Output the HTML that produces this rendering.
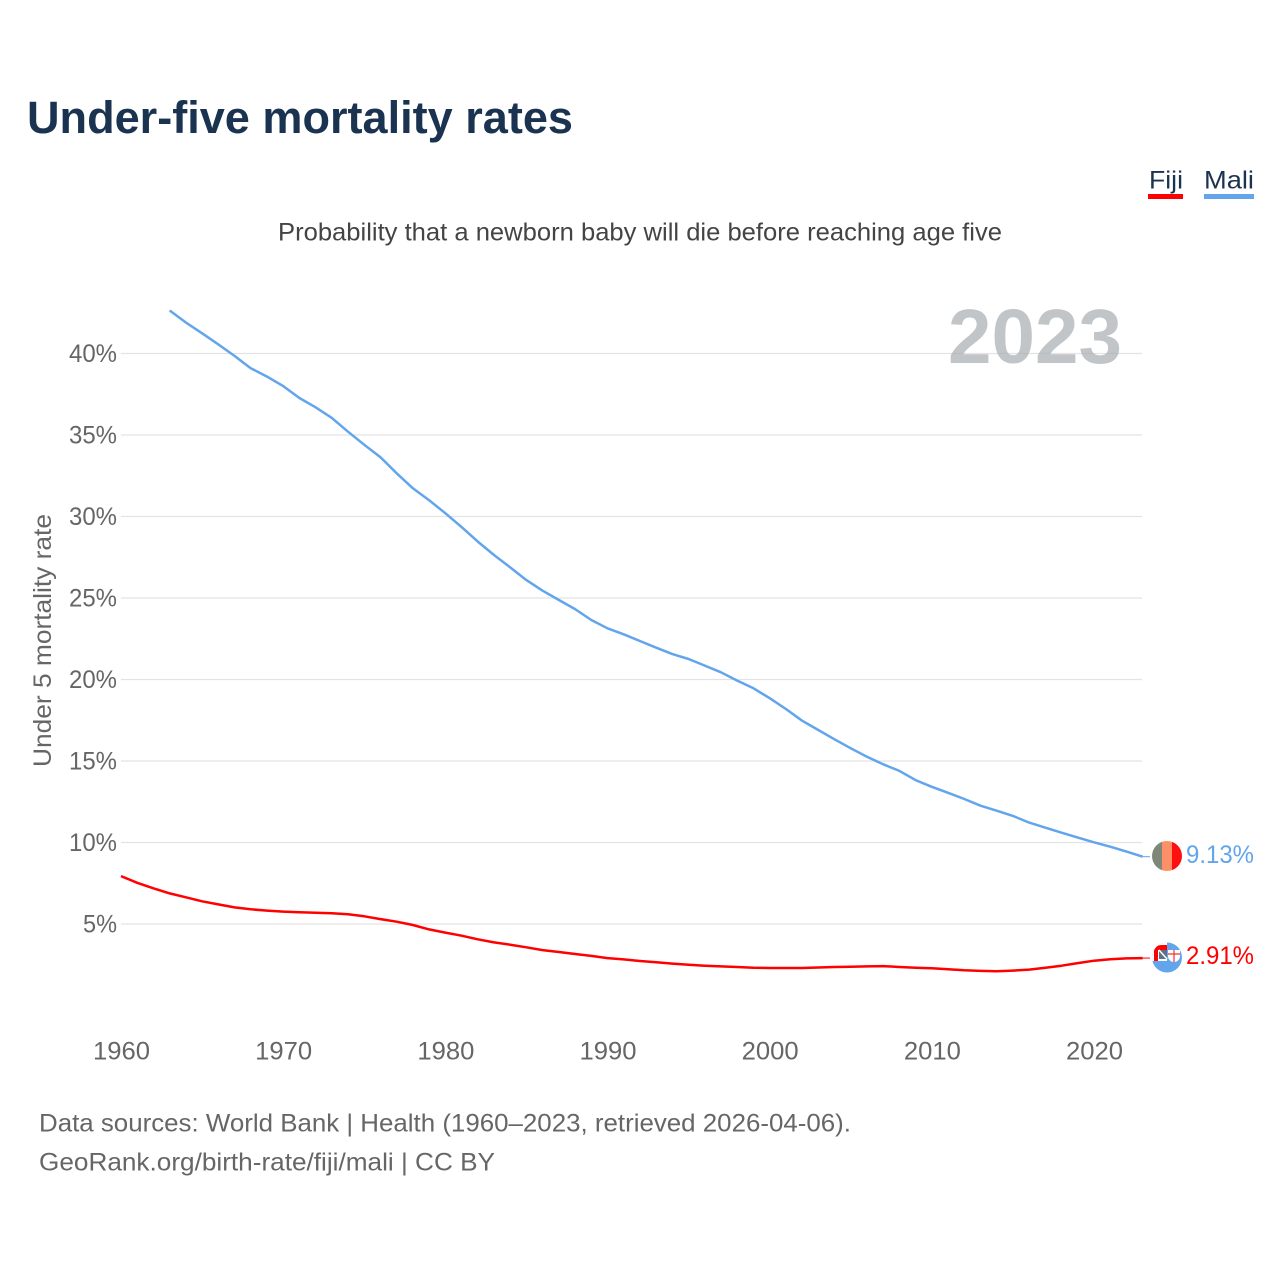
<!DOCTYPE html>
<html lang="en">
<head>
<meta charset="utf-8">
<title>Under-five mortality rates</title>
<style>
html,body{margin:0;padding:0;background:#fff;width:1280px;height:1280px;overflow:hidden}
svg{display:block}
text{font-family:"Liberation Sans",sans-serif}
</style>
</head>
<body>
<svg id="chart" width="1280" height="1280" viewBox="0 0 1280 1280" xmlns="http://www.w3.org/2000/svg">
  <defs>
    <clipPath id="mali-clip"><circle cx="1167" cy="856" r="15"/></clipPath>
    <clipPath id="fiji-clip"><circle cx="1167" cy="957.5" r="15"/></clipPath>
  </defs>
  <text x="27" y="133" font-size="45" font-weight="700" fill="#1a3350" textLength="546" lengthAdjust="spacingAndGlyphs">Under-five mortality rates</text>
  <g>
    <text x="1149" y="188.5" font-size="25" fill="#1a3350" textLength="34" lengthAdjust="spacingAndGlyphs">Fiji</text>
    <rect x="1148" y="194" width="35" height="5" fill="#ff0000"/>
    <text x="1204" y="188.5" font-size="25" fill="#1a3350" textLength="50" lengthAdjust="spacingAndGlyphs">Mali</text>
    <rect x="1204" y="194" width="50" height="5" fill="#63a5ec"/>
  </g>
  <text x="278" y="240.5" font-size="25" fill="#444" textLength="724" lengthAdjust="spacingAndGlyphs">Probability that a newborn baby will die before reaching age five</text>
  <text transform="translate(51,767) rotate(-90)" font-size="25" fill="#666" textLength="253" lengthAdjust="spacingAndGlyphs">Under 5 mortality rate</text>
  <g id="grid"></g>
  <g id="yticks"></g>
  <g id="xticks"></g>
  <text x="948" y="363" font-size="77" font-weight="700" fill="#a9afb3" fill-opacity="0.72" textLength="174" lengthAdjust="spacingAndGlyphs">2023</text>
  <g id="lines"></g>
  <g clip-path="url(#mali-clip)">
    <rect x="1152" y="841" width="10" height="30" fill="#7f8778"/>
    <rect x="1162" y="841" width="10" height="30" fill="#ff8f66"/>
    <rect x="1172" y="841" width="10" height="30" fill="#ff1010"/>
  </g>
  <g>
    <g clip-path="url(#fiji-clip)">
      <rect x="1152" y="942" width="30" height="31" fill="#63a5ec"/>
      <rect x="1152" y="942" width="15" height="19" fill="#fff"/>
      <path d="M1154 961 V951 Q1155 945 1162 945 H1167 V950 H1158 V961 Z" fill="#ff0000"/>
      <rect x="1159" y="950" width="8" height="9" fill="#5f6f85"/>
      <path d="M1159 950 L1167 959" stroke="#fff" stroke-width="1.5"/>
      <path d="M1168 950 H1180 V956 A6 6 0 0 1 1174 962 A6 6 0 0 1 1168 956 Z" fill="#fff"/>
      <path d="M1174 950 V962 M1168 954 H1180" stroke="#e33" stroke-width="1.2"/>
    </g>
  </g>
  <text id="label-mali" x="1186" y="863" font-size="25" fill="#63a5ec" textLength="68" lengthAdjust="spacingAndGlyphs">9.13%</text>
  <text id="label-fiji" x="1186" y="964" font-size="25" fill="#ff0000" textLength="68" lengthAdjust="spacingAndGlyphs">2.91%</text>
  <text x="39" y="1131.5" font-size="25" fill="#666" textLength="812" lengthAdjust="spacingAndGlyphs">Data sources: World Bank | Health (1960–2023, retrieved 2026-04-06).</text>
  <text x="39" y="1170.5" font-size="25" fill="#666" textLength="456" lengthAdjust="spacingAndGlyphs">GeoRank.org/birth-rate/fiji/mali | CC BY</text>
</svg>
<script>
const yearTicks = [1960, 1970, 1980, 1990, 2000, 2010, 2020];
const yTickValues = [5, 10, 15, 20, 25, 30, 35, 40];
const firstYear = 1960;
const fijiValues = [7.94,7.53,7.19,6.88,6.64,6.39,6.2,6.02,5.9,5.82,5.76,5.72,5.69,5.66,5.6,5.47,5.3,5.14,4.94,4.67,4.47,4.28,4.06,3.87,3.73,3.57,3.4,3.28,3.16,3.04,2.91,2.83,2.73,2.65,2.57,2.5,2.44,2.4,2.36,2.32,2.3,2.3,2.3,2.33,2.36,2.38,2.4,2.42,2.36,2.32,2.28,2.22,2.16,2.12,2.1,2.14,2.2,2.31,2.44,2.6,2.75,2.84,2.89,2.91];
const maliFirstYear = 1963;
const maliValues = [42.64,41.9,41.24,40.56,39.85,39.1,38.58,38.0,37.27,36.7,36.05,35.2,34.4,33.63,32.65,31.73,31.0,30.2,29.35,28.46,27.64,26.88,26.1,25.45,24.88,24.32,23.65,23.14,22.77,22.36,21.95,21.56,21.26,20.85,20.44,19.93,19.46,18.85,18.19,17.47,16.9,16.33,15.78,15.26,14.8,14.39,13.83,13.42,13.05,12.67,12.26,11.95,11.63,11.22,10.91,10.6,10.3,10.01,9.74,9.44,9.13];

const svgNS = 'http://www.w3.org/2000/svg';
function xScale(year) { return 121 + (year - 1960) * 16.217; }
function yScale(value) { return 1005.5 - value * 16.3; }

const grid = document.getElementById('grid');
const yticks = document.getElementById('yticks');
yTickValues.forEach(function (v) {
  const line = document.createElementNS(svgNS, 'line');
  
  
  line.setAttribute('x1', 121);
  line.setAttribute('x2', 1142);
  line.setAttribute('y1', yScale(v));
  line.setAttribute('y2', yScale(v));
  line.setAttribute('stroke', '#e3e3e3');
  line.setAttribute('stroke-width', 1.2);
  grid.appendChild(line);
  const t = document.createElementNS(svgNS, 'text');
  
  
  t.setAttribute('x', v < 10 ? 83 : 69);
  t.setAttribute('y', yScale(v) + 8.5);
  t.setAttribute('font-size', 25);
  t.setAttribute('fill', '#666');
  t.setAttribute('textLength', v < 10 ? 34 : 48);
  t.setAttribute('lengthAdjust', 'spacingAndGlyphs');
  t.textContent = v + '%';
  yticks.appendChild(t);
});

const xticks = document.getElementById('xticks');
yearTicks.forEach(function (yr) {
  const t = document.createElementNS(svgNS, 'text');
  
  
  t.setAttribute('x', xScale(yr) - 28);
  t.setAttribute('y', 1059.5);
  t.setAttribute('font-size', 25);
  t.setAttribute('fill', '#666');
  t.setAttribute('textLength', 57);
  t.setAttribute('lengthAdjust', 'spacingAndGlyphs');
  t.textContent = yr;
  xticks.appendChild(t);
});

function seriesPoints(values, startYear) {
  return values.map(function (v, i) {
    return xScale(startYear + i).toFixed(1) + ',' + yScale(v).toFixed(1);
  }).join(' ');
}
const lines = document.getElementById('lines');

const maliLine = document.createElementNS(svgNS, 'polyline');


maliLine.setAttribute('points', seriesPoints(maliValues, maliFirstYear));
maliLine.setAttribute('fill', 'none');
maliLine.setAttribute('stroke', '#63a5ec');
maliLine.setAttribute('stroke-width', 2.5);
maliLine.setAttribute('stroke-linejoin', 'round');
lines.appendChild(maliLine);

const fijiLine = document.createElementNS(svgNS, 'polyline');


fijiLine.setAttribute('points', seriesPoints(fijiValues, firstYear));
fijiLine.setAttribute('fill', 'none');
fijiLine.setAttribute('stroke', '#ff0000');
fijiLine.setAttribute('stroke-width', 2.5);
fijiLine.setAttribute('stroke-linejoin', 'round');
lines.appendChild(fijiLine);

const maliEnd = maliValues[maliValues.length - 1];
const fijiEnd = fijiValues[fijiValues.length - 1];

const maliConnector = document.createElementNS(svgNS, 'line');


maliConnector.setAttribute('x1', xScale(2023));
maliConnector.setAttribute('x2', 1150);
maliConnector.setAttribute('y1', yScale(maliEnd));
maliConnector.setAttribute('y2', yScale(maliEnd));
maliConnector.setAttribute('stroke', '#63a5ec');
maliConnector.setAttribute('stroke-width', 1);
lines.appendChild(maliConnector);

const fijiConnector = document.createElementNS(svgNS, 'line');


fijiConnector.setAttribute('x1', xScale(2023));
fijiConnector.setAttribute('x2', 1150);
fijiConnector.setAttribute('y1', yScale(fijiEnd));
fijiConnector.setAttribute('y2', yScale(fijiEnd));
fijiConnector.setAttribute('stroke', '#ff0000');
fijiConnector.setAttribute('stroke-width', 1);
lines.appendChild(fijiConnector);

document.getElementById('label-mali').textContent = maliEnd.toFixed(2) + '%';
document.getElementById('label-fiji').textContent = fijiEnd.toFixed(2) + '%';
</script>
</body>
</html>
